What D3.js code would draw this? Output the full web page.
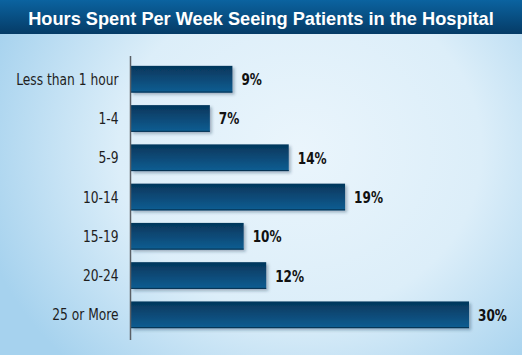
<!DOCTYPE html>
<html><head><meta charset="utf-8">
<script src="https://cdn.jsdelivr.net/npm/d3@7"></script>
<style>html,body{margin:0;padding:0;overflow:hidden;}svg{display:block;}</style>
</head><body>
<script>
const title = "Hours Spent Per Week Seeing Patients in the Hospital";
const categories = ["Less than 1 hour","1-4","5-9","10-14","15-19","20-24","25 or More"];
const values = [9,7,14,19,10,12,30];
const valueLabels = ["9%","7%","14%","19%","10%","12%","30%"];

const W=522,H=355;
const svg=d3.select("body").append("svg").attr("width",W).attr("height",H);
const defs=svg.append("defs");

const bg=defs.append("radialGradient").attr("id","bg").attr("gradientUnits","userSpaceOnUse")
  .attr("cx",300).attr("cy",150).attr("r",330).attr("gradientTransform","matrix(1,0,0,0.9,0,15)");
bg.append("stop").attr("offset","0").attr("stop-color","#eaf5fc");
bg.append("stop").attr("offset","0.55").attr("stop-color","#dceef9");
bg.append("stop").attr("offset","1").attr("stop-color","#a6d2ee");

const tg=defs.append("linearGradient").attr("id","tg").attr("x1",0).attr("y1",0).attr("x2",0).attr("y2",1);
tg.append("stop").attr("offset","0").attr("stop-color","#0b63a0");
tg.append("stop").attr("offset","1").attr("stop-color","#053b66");

const bgr=defs.append("linearGradient").attr("id","bar").attr("x1",0).attr("y1",0).attr("x2",0).attr("y2",1);
bgr.append("stop").attr("offset","0").attr("stop-color","#05365b");
bgr.append("stop").attr("offset","1").attr("stop-color","#0f5e93");

const sh=defs.append("filter").attr("id","sh").attr("x","-5%").attr("y","-20%").attr("width","115%").attr("height","160%");
sh.append("feDropShadow").attr("dx",2).attr("dy",2).attr("stdDeviation",1.5).attr("flood-color","#1a3550").attr("flood-opacity",0.35);

svg.append("rect").attr("width",W).attr("height",H).attr("fill","url(#bg)");
svg.append("rect").attr("width",W).attr("height",34).attr("fill","url(#tg)");
const t=svg.append("text").attr("x",261).attr("y",25).attr("text-anchor","middle")
  .attr("font-family","Liberation Sans, Arial, sans-serif").attr("font-weight","bold")
  .attr("font-size",20).attr("fill","#ffffff").text(title);
const tw=t.node().getComputedTextLength();
t.attr("font-size",Math.min(20,20*466/tw));

const x=d3.scaleLinear().domain([0,30]).range([131,469]);
const y=d3.scaleBand().domain(categories).range([58,336]).paddingInner(0.32).paddingOuter(0.2);

const g=svg.append("g");
g.selectAll("rect.bar").data(values).join("rect").attr("class","bar")
  .attr("x",x(0)).attr("y",(d,i)=>y(categories[i]))
  .attr("width",d=>x(d)-x(0)).attr("height",y.bandwidth())
  .attr("fill","url(#bar)").attr("filter","url(#sh)");

g.selectAll("line.bb").data(values).join("line").attr("class","bb")
  .attr("x1",x(0)).attr("x2",d=>x(d)).attr("y1",(d,i)=>y(categories[i])+y.bandwidth()-0.5).attr("y2",(d,i)=>y(categories[i])+y.bandwidth()-0.5)
  .attr("stroke","#06304f").attr("stroke-width",1);

const yAxis=d3.axisLeft(y).tickSize(0).tickPadding(12);
const ax=svg.append("g").attr("transform",`translate(${x(0)-0.5},0)`).call(yAxis);
ax.select(".domain").attr("d","M0,56V340").attr("stroke","#5b6066").attr("stroke-width",1.5);
const sx=0.88;
ax.selectAll("text").attr("font-family","DejaVu Sans Condensed, sans-serif")
  .attr("font-size",15.5).attr("fill","#1e1e1e").attr("dy","0.36em")
  .attr("transform",`scale(${sx},1)`).attr("x",-12/sx);

const vs=0.84;
g.selectAll("text.val").data(values).join("text").attr("class","val")
  .attr("transform",(d,i)=>`translate(${x(d)+9},${y(categories[i])+y.bandwidth()/2+6}) scale(${vs},1)`)
  .attr("font-family","DejaVu Sans Condensed, sans-serif").attr("font-weight","bold")
  .attr("font-size",16).attr("fill","#111").text((d,i)=>valueLabels[i]);
</script>
</body></html>
